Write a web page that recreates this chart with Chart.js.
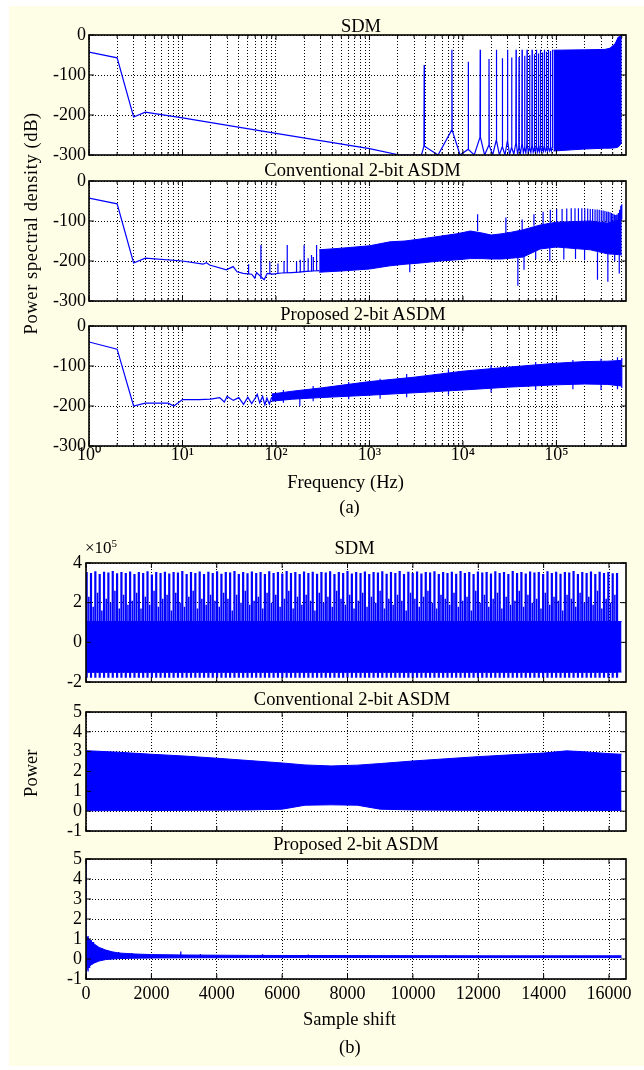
<!DOCTYPE html>
<html>
<head>
<meta charset="utf-8">
<script src="https://cdn.jsdelivr.net/npm/chart.js@4.4.1/dist/chart.umd.min.js"></script>
<style>
html,body{margin:0;padding:0;background:#ffffff;}
#page{position:relative;width:644px;height:1070px;overflow:hidden;background:#ffffff;}
#bg{position:absolute;left:9px;top:6px;width:635px;height:1060px;background:#fefde6;}
canvas{position:absolute;left:0;}
.t{position:absolute;font-family:'Liberation Serif','Times New Roman',serif;font-size:18.5px;line-height:18.5px;white-space:nowrap;color:#000;transform:translateX(-50%);}
.r{position:absolute;font-family:'Liberation Serif','Times New Roman',serif;font-size:18.5px;line-height:18.5px;white-space:nowrap;color:#000;text-align:center;transform:rotate(-90deg);}
</style>
</head>
<body>
<div id="page">
  <div id="bg"></div>
  <canvas id="a1"></canvas>
  <canvas id="a2"></canvas>
  <canvas id="a3"></canvas>
  <canvas id="b1"></canvas>
  <canvas id="b2"></canvas>
  <canvas id="b3"></canvas>

  <div class="t" style="left:361px;top:17px;">SDM</div>
  <div class="t" style="left:362.5px;top:160.5px;">Conventional 2-bit ASDM</div>
  <div class="t" style="left:363px;top:305px;">Proposed 2-bit ASDM</div>
  <div class="t" style="left:345.6px;top:473px;">Frequency (Hz)</div>
  <div class="t" style="left:349.5px;top:498px;">(a)</div>
  <div class="r" style="left:-119px;top:214px;width:300px;letter-spacing:0.6px;">Power spectral density (dB)</div>

  <div class="t" style="left:354.6px;top:538.5px;">SDM</div>
  <div style="position:absolute;left:85px;top:539px;font-family:'Liberation Serif','Times New Roman',serif;font-size:17px;line-height:17px;white-space:nowrap;color:#000;">×10<span style="font-size:11px;position:relative;top:-6px;">5</span></div>
  <div class="t" style="left:352px;top:690px;">Conventional 2-bit ASDM</div>
  <div class="t" style="left:356px;top:835px;">Proposed 2-bit ASDM</div>
  <div class="t" style="left:349.5px;top:1009.5px;">Sample shift</div>
  <div class="t" style="left:349.8px;top:1037.5px;">(b)</div>
  <div class="r" style="left:-19px;top:764px;width:100px;">Power</div>
</div>
<script>
// ---------------- (a) SDM spectrum ----------------
const sdmLowF  = [1, 2, 3, 4, 10, 100, 1000, 2100, 3600];
const sdmLowDb = [-43, -57, -205, -193, -207, -246, -284, -300, -300];
const sdmSpikeF   = [3850, 7620, 11400, 15300, 19000, 22800, 26400, 30000, 33200, 37000, 39800, 42900, 45700, 48500, 51700, 54900, 58100, 61100, 64200, 67400, 70800, 74300, 78100, 82000, 86200, 90600];
const sdmSpikeTop = [-75, -37, -67, -37, -60, -37, -58, -37, -56, -37, -55, -37, -52, -37, -50, -37, -48, -37, -46, -37, -44, -37, -42, -37, -40, -37];
const sdmSpikeFoot = [-278, -238, -286, -256, -276, -264, -280, -266, -282, -270, -282, -272, -283, -274, -283, -276, -284, -277, -284, -278, -285, -279, -285, -280, -285, -281];
const sdmValley = [-300, -300, -300, -300, -300, -300, -300, -299, -298, -297, -296, -295, -295, -294, -294, -293, -293, -292, -292, -291, -291, -290, -290, -290, -290, -290];
const sdmBandF  = [93000, 200000, 330000, 374000, 424000, 459000, 490000, 500000];
const sdmBandHi = [-38, -37, -36, -33, -22, -5, -3, 0];
const sdmBandLo = [-290, -285, -283, -283, -282, -280, -272, -268];

// ---------------- (a) Conventional 2-bit ASDM spectrum ----------------
const convLowF  = [1, 2, 3, 4, 10, 16.6, 18, 19.5, 29.5, 34.8, 38.4, 44.6, 55, 59.4, 62, 74.7, 80.5, 93, 114, 147, 175, 210, 250, 290];
const convLowDb = [-43, -57, -205, -193, -200, -208, -204, -210, -222, -214, -227, -231, -233, -243, -229, -247, -231, -233, -230, -229, -228, -226, -225, -224];
const convLowSpkF  = [51, 69, 86, 105, 122, 132, 166, 182, 200, 221, 240, 251, 272];
const convLowSpkLo = [-233, -245, -233, -232, -230, -230, -229, -229, -228, -227, -226, -225, -224];
const convLowSpkHi = [-208, -160, -202, -206, -200, -160, -201, -197, -160, -193, -185, -190, -160];
const convBandF  = [290, 500, 1000, 1660, 2400, 3500, 5700, 8600, 12000, 16000, 20000, 26000, 33000, 44000, 67000, 100000, 230000, 350000, 460000, 500000];
const convBandHi = [-172, -168, -162, -152, -150, -145, -138, -132, -125, -130, -135, -132, -128, -122, -110, -103, -100, -105, -98, -94];
const convBandLo = [-228, -225, -220, -212, -208, -205, -200, -197, -194, -194, -195, -195, -193, -190, -170, -165, -172, -182, -184, -185];
const convPeakF   = [14350, 28800, 43000, 57500, 72000, 86000, 100500, 115000, 129000, 144000, 158000, 172000, 187000, 201000, 216000, 230000, 244000, 259000, 273000, 287000, 302000, 316000, 330000, 345000, 359000, 374000, 388000, 402000, 417000, 431000, 445000, 460000, 474000, 488000, 500000];
const convPeakTop = [-83, -91, -96, -83, -77, -72, -70, -70, -69, -68, -68, -68, -68, -69, -69, -70, -70, -71, -71, -72, -73, -74, -75, -76, -77, -78, -80, -82, -84, -85, -84, -80, -72, -62, -58];
const convPeakBase = [-125, -130, -122, -112, -108, -105, -104, -103, -102, -102, -101, -101, -101, -101, -101, -101, -101, -101, -101, -102, -102, -102, -103, -103, -104, -104, -104, -105, -105, -105, -105, -104, -102, -100, -96];
const convNotchF  = [2700, 38700, 45000, 60000, 85000, 120000, 160000, 200000, 275000, 355000, 420000, 470000];
const convNotchHi = [-205, -190, -185, -168, -166, -166, -168, -170, -178, -182, -183, -184];
const convNotchLo = [-228, -262, -222, -195, -200, -196, -195, -198, -247, -252, -200, -231];

// ---------------- (a) Proposed 2-bit ASDM spectrum ----------------
const propLowF  = [1, 2, 3, 4, 7, 8.1, 10, 15, 20, 25, 28, 30, 35, 40, 45, 50, 55, 60, 63, 67, 72, 76, 80, 85, 90];
const propLowDb = [-40, -58, -200, -193, -193, -200, -184, -184, -183, -179, -190, -176, -186, -179, -196, -178, -194, -180, -171, -192, -176, -197, -180, -195, -178];
const propBandF  = [90, 150, 300, 1000, 3000, 10000, 30000, 100000, 200000, 350000, 500000];
const propBandHi = [-170, -163, -155, -139, -128, -113, -103, -93, -89, -88, -86];
const propBandLo = [-188, -183, -179, -173, -167, -160, -153, -147, -145, -146, -150];
const propSpkF  = [120, 180, 250, 600, 1300, 2500, 7000, 20000, 60000, 150000, 300000, 450000, 500000];
const propSpkLo = [-192, -200, -188, -183, -182, -178, -172, -166, -160, -158, -160, -158, -155];
const propSpkHi = [-160, -175, -150, -140, -132, -120, -108, -98, -90, -85, -82, -78, -80];

// ---------------- (b) SDM autocorrelation (x1e5) ----------------
const sdmAcBandX = [0, 16384];
const sdmAcBandHi = [1.05, 1.05];
const sdmAcBandLo = [-1.5, -1.5];
const sdmAcFloor = -1.78;
const sdmAcMidFloor = -1.55;
const sdmAcX = [20,153,286,419,552,685,818,951,1084,1217,1350,1483,1616,1749,1882,2015,2148,2281,2414,2547,2680,2813,2946,3079,3212,3345,3478,3611,3744,3877,4010,4143,4276,4409,4542,4675,4808,4941,5074,5207,5340,5473,5606,5739,5872,6005,6138,6271,6404,6537,6670,6803,6936,7069,7202,7335,7468,7601,7734,7867,8000,8133,8266,8399,8532,8665,8798,8931,9064,9197,9330,9463,9596,9729,9862,9995,10128,10261,10394,10527,10660,10793,10926,11059,11192,11325,11458,11591,11724,11857,11990,12123,12256,12389,12522,12655,12788,12921,13054,13187,13320,13453,13586,13719,13852,13985,14118,14251,14384,14517,14650,14783,14916,15049,15182,15315,15448,15581,15714,15847,15980,16113,16246];
const sdmAcTop = [3.55,3.5,3.58,3.45,3.56,3.52,3.6,3.48,3.55,3.5,
 3.57,3.45,3.55,3.5,3.58,3.42,3.55,3.5,3.56,3.47,
 3.55,3.52,3.6,3.45,3.55,3.5,3.57,3.44,3.56,3.5,
 3.58,3.46,3.55,3.52,3.6,3.45,3.55,3.48,3.57,3.5,
 3.55,3.45,3.58,3.5,3.55,3.47,3.6,3.5,3.55,3.45,
 3.57,3.5,3.56,3.46,3.55,3.52,3.58,3.45,3.55,3.5,
 3.6,3.47,3.55,3.5,3.57,3.44,3.55,3.52,3.58,3.46,
 3.55,3.5,3.6,3.45,3.56,3.5,3.57,3.47,3.55,3.52,
 3.58,3.45,3.55,3.5,3.56,3.46,3.6,3.5,3.55,3.45,
 3.57,3.52,3.55,3.47,3.58,3.5,3.55,3.45,3.6,3.5,
 3.55,3.47,3.57,3.52,3.55,3.45,3.58,3.5,3.56,3.46,
 3.55,3.52,3.6,3.45,3.55,3.5,3.57,3.44,3.56,3.5,
 3.55,3.48,3.5];
const sdmAcMid = [2.3,1.8,2.5,1.6,2.2,2.0,2.6,1.7,2.4,1.9,
 2.1,2.5,1.7,2.3,1.9,2.6,1.8,2.2,2.4,1.6,
 2.5,2.0,1.8,2.3,2.6,1.7,2.2,1.9,2.4,2.1,
 1.8,2.5,2.2,1.6,2.4,2.0,2.6,1.9,2.1,2.3,
 1.7,2.5,2.0,2.4,1.8,2.2,2.6,1.7,2.3,1.9,
 2.4,2.1,1.6,2.5,2.0,2.3,1.8,2.6,2.2,1.9,
 2.4,1.7,2.1,2.5,1.8,2.3,2.0,2.6,1.7,2.2,
 1.9,2.4,2.1,1.6,2.5,2.2,1.8,2.3,2.6,2.0,
 1.7,2.4,2.2,1.9,2.5,1.8,2.1,2.3,1.6,2.6,
 2.0,2.4,1.8,2.2,2.5,1.7,2.3,1.9,2.1,2.6,
 1.8,2.4,2.0,2.2,1.7,2.5,1.9,2.3,2.1,1.6,
 2.4,2.2,1.8,2.5,2.0,2.3,1.9,2.6,1.7,2.2,
 2.0,2.4];

// ---------------- (b) Conventional 2-bit ASDM autocorrelation ----------------
const convAcX   = [0, 1000, 2000, 3000, 4000, 5000, 6000, 6700, 7500, 8300, 9000, 10000, 11000, 12000, 13000, 14000, 14700, 15200, 16000, 16384];
const convAcHi  = [3.05, 2.97, 2.87, 2.78, 2.67, 2.55, 2.43, 2.33, 2.28, 2.32, 2.40, 2.53, 2.64, 2.75, 2.84, 2.93, 3.04, 3.0, 2.9, 2.87];
const convAcLo  = [0.02, 0.03, 0.03, 0.04, 0.05, 0.06, 0.1, 0.3, 0.32, 0.3, 0.1, 0.06, 0.05, 0.04, 0.04, 0.03, 0.03, 0.03, 0.03, 0.03];

// ---------------- (b) Proposed 2-bit ASDM autocorrelation ----------------
const propAcX  = [10, 40, 80, 150, 250, 400, 600, 800, 1000, 1500, 2000, 3000, 5000, 8000, 12000, 16384];
const propAcHi = [1.15, 1.1, 1.0, 0.9, 0.75, 0.58, 0.45, 0.36, 0.3, 0.25, 0.22, 0.2, 0.18, 0.17, 0.16, 0.16];
const propAcLo = [-0.62, -0.5, -0.4, -0.3, -0.2, -0.1, -0.03, 0.0, 0.02, 0.04, 0.05, 0.06, 0.07, 0.07, 0.07, 0.07];
const propAcSpX  = [0, 64, 110, 160, 230, 330, 480, 650, 1000, 1400, 2900, 3500, 5400, 6800, 11000];
const propAcSpLo = [-1, -0.62, -0.45, -0.3, -0.2, -0.12, -0.05, 0.0, 0.03, 0.04, 0.06, 0.06, 0.07, 0.07, 0.07];
const propAcSpHi = [5, 1.15, 1.0, 0.95, 0.85, 0.65, 0.55, 0.42, 0.35, 0.3, 0.38, 0.25, 0.24, 0.22, 0.2];

// ---------------- axis tick values ----------------
const logTickLabels = ['10\u2070', '10\u00B9', '10\u00B2', '10\u00B3', '10\u2074', '10\u2075'];
const psdTicks = [-300, -200, -100, 0];
const shiftTicks = [0, 2000, 4000, 6000, 8000, 10000, 12000, 14000, 16000];
const sdmAcTicks = [-2, 0, 2, 4];
const asdmAcTicks = [-1, 0, 1, 2, 3, 4, 5];

// ---------------- helpers ----------------
const BLUE = '#0000ff';
const FONT = "'Liberation Serif','Times New Roman',serif";
const F_MAX = 555000;
const logTicks = [];
for (let d = 0; d <= 5; d++) for (let m = 1; m <= 9; m++) { const v = m * Math.pow(10, d); if (v <= F_MAX) logTicks.push(v); }
function isDecade(v){ const e = Math.log10(v); return Math.abs(e - Math.round(e)) < 1e-9; }
function pts(xs, ys){ return xs.map((x, i) => ({x: x, y: ys[i]})); }
function seg(xs, lo, hi){
  const d = [];
  xs.forEach((x, i) => {
    const a = Array.isArray(lo) ? lo[i] : lo, b = Array.isArray(hi) ? hi[i] : hi;
    d.push({x: x, y: a}, {x: x, y: b}, {x: x, y: null});
  });
  return d;
}
function spikePath(fs, tops, feet, valleys){
  const d = [];
  fs.forEach((f, i) => {
    d.push({x: f / 1.006, y: feet[i]}, {x: f, y: tops[i]}, {x: f * 1.006, y: feet[i]});
    if (i < fs.length - 1) d.push({x: Math.sqrt(f * fs[i + 1]), y: valleys[i]});
  });
  return d;
}
function ds(data, extra){
  return Object.assign({data: data, borderColor: BLUE, backgroundColor: BLUE, borderWidth: 1.2,
    pointRadius: 0, fill: false, spanGaps: false, tension: 0}, extra || {});
}
function band(xs, hi, lo, color){
  return [ds(pts(xs, hi), {fill: '+1', backgroundColor: color || BLUE, borderWidth: 1}),
          ds(pts(xs, lo), {borderWidth: 1})];
}

const boxPlugin = {
  id: 'box',
  beforeDraw(c){
    const a = c.chartArea, ctx = c.ctx;
    ctx.save(); ctx.fillStyle = '#ffffff';
    ctx.fillRect(a.left, a.top, a.right - a.left, a.bottom - a.top);
    ctx.restore();
  },
  afterDraw(c){
    const a = c.chartArea, ctx = c.ctx, sx = c.scales.x, sy = c.scales.y;
    ctx.save(); ctx.strokeStyle = '#000'; ctx.lineWidth = 1; ctx.beginPath();
    sx.ticks.forEach(t => {
      const p = sx.getPixelForValue(t.value);
      const L = (sx.type === 'logarithmic' && !isDecade(t.value)) ? 3 : 5;
      ctx.moveTo(p, a.bottom); ctx.lineTo(p, a.bottom - L);
      ctx.moveTo(p, a.top); ctx.lineTo(p, a.top + L);
    });
    sy.ticks.forEach(t => {
      const p = sy.getPixelForValue(t.value);
      ctx.moveTo(a.left, p); ctx.lineTo(a.left + 5, p);
      ctx.moveTo(a.right, p); ctx.lineTo(a.right - 5, p);
    });
    ctx.stroke();
    ctx.lineWidth = 1.6;
    ctx.strokeRect(a.left, a.top, a.right - a.left, a.bottom - a.top);
    ctx.restore();
  }
};

function makeChart(id, o){
  const cv = document.getElementById(id);
  const padT = 15, xH = o.xLabels ? 40 : 0, padB = o.xLabels ? 0 : 15;
  const h = (o.bottom - o.top) + padT + xH + padB;
  cv.width = 644; cv.height = h;
  cv.style.width = '644px'; cv.style.height = h + 'px';
  cv.style.top = (o.top - padT) + 'px';
  return new Chart(cv, {
    type: 'line',
    data: {datasets: o.datasets},
    options: {
      responsive: false, animation: false, events: [],
      layout: {padding: {left: 0, right: 644 - o.right, top: padT, bottom: padB}},
      plugins: {legend: {display: false}, tooltip: {enabled: false}, title: {display: false}},
      scales: {
        x: {
          type: o.xType, min: o.xMin, max: o.xMax,
          afterBuildTicks: s => { s.ticks = o.xTicks.map(v => ({value: v})); },
          afterFit: s => { s.height = xH; },
          ticks: {display: o.xLabels, autoSkip: false, maxRotation: 0, minRotation: 0,
                  padding: o.xPad || 0, color: '#000', font: {family: FONT, size: 18},
                  callback: o.xFmt},
          grid: {color: '#000', lineWidth: 1, drawTicks: false},
          border: {display: false, dash: [1, 2]}
        },
        y: {
          type: 'linear', min: o.yMin, max: o.yMax,
          afterBuildTicks: s => { s.ticks = o.yTicks.map(v => ({value: v})); },
          afterFit: s => { s.width = o.left; },
          ticks: {padding: o.yPad, autoSkip: false, color: '#000', font: {family: FONT, size: 18},
                  callback: v => String(v)},
          grid: {color: '#000', lineWidth: 1, drawTicks: false},
          border: {display: false, dash: [1, 2]}
        }
      }
    },
    plugins: [boxPlugin]
  });
}

const logFmt = v => { if (!isDecade(v)) return ''; return logTickLabels[Math.round(Math.log10(v))]; };
const linFmt = v => String(v);

const aBase = {left: 89, right: 626, xType: 'logarithmic', xMin: 1, xMax: F_MAX, xTicks: logTicks,
               xFmt: logFmt, yMin: -300, yMax: 0, yTicks: psdTicks, yPad: 3};
const bBase = {left: 86, right: 626, xType: 'linear', xMin: 0, xMax: 16520, xTicks: shiftTicks,
               xFmt: linFmt, yPad: 4};

makeChart('a1', Object.assign({}, aBase, {top: 35, bottom: 155, xLabels: false, datasets: [
  ds(pts(sdmLowF, sdmLowDb).concat(spikePath(sdmSpikeF, sdmSpikeTop, sdmSpikeFoot, sdmValley))),
  ...band(sdmBandF, sdmBandHi, sdmBandLo)
]}));

makeChart('a2', Object.assign({}, aBase, {top: 181, bottom: 301, xLabels: false, datasets: [
  ds(pts(convLowF, convLowDb)),
  ds(seg(convLowSpkF, convLowSpkLo, convLowSpkHi)),
  ...band(convBandF, convBandHi, convBandLo),
  ds(seg(convPeakF, convPeakBase, convPeakTop)),
  ds(seg(convNotchF, convNotchHi, convNotchLo))
]}));

makeChart('a3', Object.assign({}, aBase, {top: 326, bottom: 446, xLabels: true, xPad: -2, datasets: [
  ds(pts(propLowF, propLowDb)),
  ...band(propBandF, propBandHi, propBandLo),
  ds(seg(propSpkF, propSpkLo, propSpkHi))
]}));

const sdmAcMidX = sdmAcX.slice(0, -1).map((x, i) => (x + sdmAcX[i + 1]) / 2);
makeChart('b1', Object.assign({}, bBase, {top: 563, bottom: 682, xLabels: false, yMin: -2, yMax: 4, yTicks: sdmAcTicks, datasets: [
  ...band(sdmAcBandX, sdmAcBandHi, sdmAcBandLo),
  ds(seg(sdmAcX, sdmAcFloor, sdmAcTop), {borderWidth: 2.2}),
  ds(seg(sdmAcMidX, sdmAcMidFloor, sdmAcMid), {borderWidth: 1.5})
]}));

makeChart('b2', Object.assign({}, bBase, {top: 712, bottom: 831, xLabels: false, yMin: -1, yMax: 5, yTicks: asdmAcTicks, datasets: [
  ...band(convAcX, convAcHi, convAcLo)
]}));

makeChart('b3', Object.assign({}, bBase, {top: 859, bottom: 979, xLabels: true, xPad: 4, yMin: -1, yMax: 5, yTicks: asdmAcTicks, datasets: [
  ...band(propAcX, propAcHi, propAcLo),
  ds(seg(propAcSpX, propAcSpLo, propAcSpHi), {borderWidth: 1.3})
]}));
</script>
</body>
</html>
